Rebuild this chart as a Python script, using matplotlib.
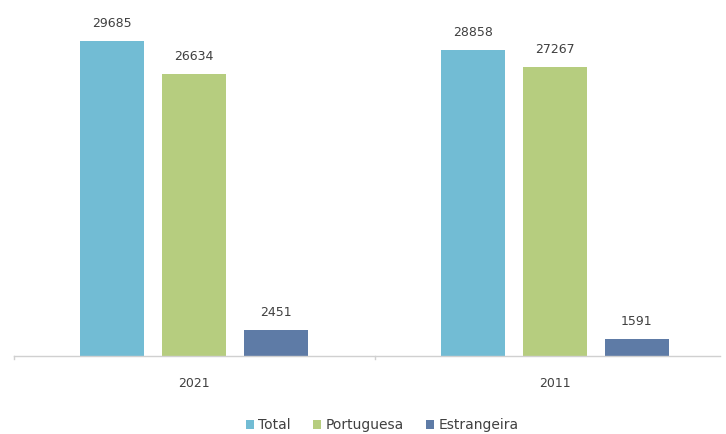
import matplotlib.pyplot as plt
import numpy as np

YEARS = ["2021", "2011"]
SERIES = ["Total", "Portuguesa", "Estrangeira"]
TOTAL = [29685, 28858]
PORTUGUESA = [26634, 27267]
ESTRANGEIRA = [2451, 1591]

COLORS = ["#72bcd4", "#b6cd7f", "#5e7ba6"]

fig = plt.figure(figsize=(7.26, 4.34), dpi=100)
ax = fig.add_axes([13.5 / 726, 78 / 434, (720 - 13.5) / 726, 356 / 434])

x = np.arange(len(YEARS))
width = 0.177
step = 0.227
for i, (name, vals) in enumerate(zip(SERIES, [TOTAL, PORTUGUESA, ESTRANGEIRA])):
    pos = x + (i - 1) * step
    ax.bar(pos, vals, width, color=COLORS[i], label=name, zorder=2)
    for px, v in zip(pos, vals):
        ax.annotate(str(v), (px, v), xytext=(0, 8), textcoords="offset points",
                    ha="center", va="bottom", fontsize=9, color="#404040")

ax.set_xlim(-0.5, 1.457)
ax.set_ylim(0, 33600)
ax.set_yticks([])
ax.set_xticks([])
for s in ["top", "right", "left"]:
    ax.spines[s].set_visible(False)
ax.spines["bottom"].set_color("#d0d0d0")
ax.spines["bottom"].set_linewidth(1.0)

# category boundary ticks
for b in [-0.5, 0.5, 1.5]:
    ax.plot([b, b], [0, -250], color="#d0d0d0", lw=1, clip_on=False)

for xi, yr in zip(x, YEARS):
    ax.text(xi, -2550, yr, ha="center", va="center", fontsize=9, color="#404040")

handles, labels = ax.get_legend_handles_labels()
fig.legend(handles, labels, loc="center", bbox_to_anchor=(382 / 726, 1 - 425 / 434),
           ncol=3, frameon=False, fontsize=10, handlelength=0.6, handleheight=0.6,
           handletextpad=0.3, columnspacing=1.6, labelcolor="#404040")

fig.savefig("out.png", dpi=100)
